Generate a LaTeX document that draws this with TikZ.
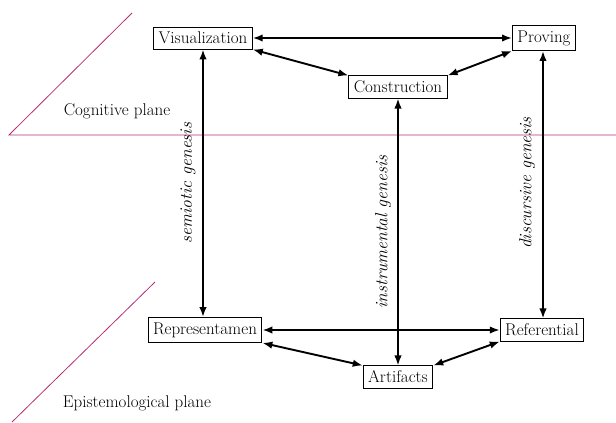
\documentclass[tikz,border=0pt]{standalone}
\usetikzlibrary{arrows.meta}
\definecolor{plane}{RGB}{185,45,115}
\begin{document}
\begin{tikzpicture}[x=1pt,y=-1pt,
  box/.style={draw,line width=0.9pt,fill=white,inner xsep=5pt,inner ysep=5pt,font=\fontsize{17}{19}\selectfont},
  arr/.style={line width=1.9pt,{Latex[length=10pt,width=7.5pt]}-{Latex[length=10pt,width=7.5pt]}},
  lab/.style={font=\fontsize{17}{19}\selectfont},
  gen/.style={font=\fontsize{17.5}{19}\selectfont\itshape,rotate=90},
  pl/.style={draw=plane,line width=0.8pt}]
\useasboundingbox (0,0) rectangle (616,423);
% planes
\coordinate (h0) at (9,135);
\coordinate (h1) at (616,135);
\coordinate (d0) at (132,13);
\coordinate (e0) at (155,282);
\coordinate (e1) at (12,422);
\draw[pl] (d0) -- (h0) -- (h1);
\draw[pl] (e0) -- (e1);
\node[lab] (cog) at (117,111) {Cognitive plane};
\node[lab] (epi) at (137,403) {Epistemological plane};
% nodes
\node[box] (vis) at (203,38) {Visualization};
\node[box] (pro) at (544,38) {Proving};
\node[box] (con) at (398,87) {Construction};
\node[box] (rep) at (205,330) {Representamen};
\node[box] (ref) at (542,330) {Referential};
\node[box] (art) at (398,377) {Artifacts};
% arrows
\draw[arr] (vis) -- (pro);
\draw[arr] (vis.south east) -- (con.north west);
\draw[arr] (pro.south west) -- (con.north east);
\draw[arr] (rep) -- (ref);
\draw[arr] (rep.south east) -- (art.north west);
\draw[arr] (ref.south west) -- (art.north east);
\draw[arr] (vis.south -| 203,0) -- (rep.north -| 203,0);
\draw[arr] (pro.south -| 543,0) -- (ref.north -| 543,0);
\draw[arr] (con) -- (art);
% labels
\node[gen] (sg) at (188,183) {semiotic genesis};
\node[gen] (ig) at (383,232) {instrumental genesis};
\node[gen] (dg) at (527,183) {discursive genesis};
\end{tikzpicture}
\end{document}
